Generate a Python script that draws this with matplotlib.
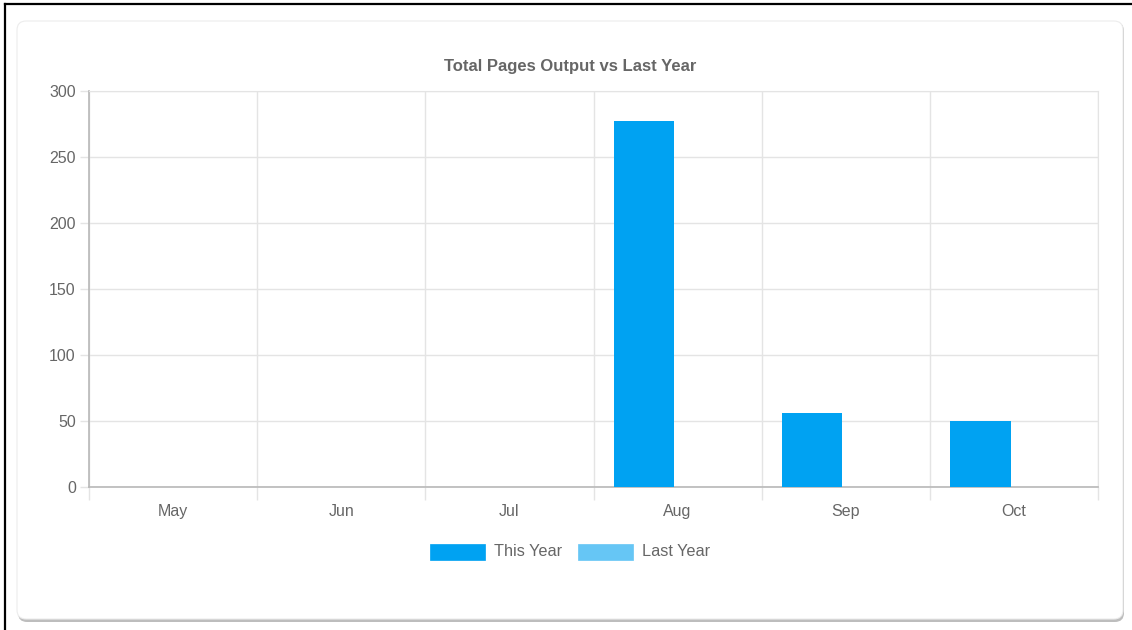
import matplotlib
matplotlib.use("Agg")
import matplotlib.pyplot as plt
from matplotlib.patches import FancyBboxPatch, Rectangle
from matplotlib.lines import Line2D

months = ["May", "Jun", "Jul", "Aug", "Sep", "Oct"]
this_year = [0, 0, 0, 277, 56, 50]
last_year = [0, 0, 0, 0, 0, 0]
series_names = ["This Year", "Last Year"]
colors = ["#00A2F2", "#66C6F5"]
yticks = [0, 50, 100, 150, 200, 250, 300]
title = "Total Pages Output vs Last Year"

W, H = 1132, 630
plt.rcParams['font.family'] = ['Liberation Sans', 'DejaVu Sans']
fig = plt.figure(figsize=(W / 100, H / 100), dpi=100)
fig.patch.set_facecolor("white")

def fx(px):
    return px / W

def fy(py):
    return 1 - py / H

# outer black frame (left and top)
fig.add_artist(Line2D([fx(5), fx(5)], [fy(4), 0], color="black", lw=1.6, transform=fig.transFigure))
fig.add_artist(Line2D([fx(5), 1], [fy(4), fy(4)], color="black", lw=1.6, transform=fig.transFigure))

# card shadow and card
shadow = FancyBboxPatch((fx(18), fy(622)), fx(1124 - 18), (622 - 22) / H,
                        boxstyle="round,pad=0,rounding_size=0.008",
                        transform=fig.transFigure, facecolor="#bdbdbd", edgecolor="none",
                        mutation_aspect=W / H, zorder=0)
fig.add_artist(shadow)
card = FancyBboxPatch((fx(17), fy(619)), fx(1123 - 17), (619 - 21) / H,
                      boxstyle="round,pad=0,rounding_size=0.008",
                      transform=fig.transFigure, facecolor="white", edgecolor="#ececec",
                      lw=0.8, mutation_aspect=W / H, zorder=0.5)
fig.add_artist(card)

left, right, top, bottom = 89, 1098, 91, 487
ax = fig.add_axes([fx(left), fy(bottom), (right - left) / W, (bottom - top) / H])
ax.set_facecolor("none")
ax.set_zorder(2)

x = list(range(len(months)))
bw = 0.36
ax.bar([i - 0.2 for i in x], this_year, width=bw, color=colors[0], zorder=3)
ax.bar([i + 0.2 for i in x], last_year, width=bw, color=colors[1], zorder=3)

ax.set_xlim(-0.5, len(months) - 0.5)
ax.set_ylim(0, 300)
ax.set_yticks(yticks)
ax.set_xticks(x)
ax.set_xticklabels(months)
ax.set_xticks([i - 0.5 for i in range(len(months) + 1)], minor=True)

grid_c = "#e4e4e4"
axis_c = "#b8b8b8"
text_c = "#666666"
ax.grid(True, axis="y", which="major", color=grid_c, lw=1, zorder=0)
ax.grid(True, axis="x", which="minor", color=grid_c, lw=1, zorder=0)
ax.tick_params(axis="x", which="major", length=0, pad=12, labelsize=11.5, labelcolor=text_c)
ax.tick_params(axis="x", which="minor", length=9.5, color=grid_c, width=1)
ax.tick_params(axis="y", length=6.5, color=grid_c, width=1, pad=3, labelsize=11.5, labelcolor=text_c)
for s in ["top", "right"]:
    ax.spines[s].set_color(grid_c)
for s in ["left", "bottom"]:
    ax.spines[s].set_color(axis_c)
    ax.spines[s].set_linewidth(1.2)

fig.text(fx(570.5), fy(67), title, ha="center", va="center", fontsize=12,
         fontweight="bold", color=text_c)

# legend
leg_y = 552
items = [(430, 494), (578, 642)]
for (bx, tx), name, c in zip(items, series_names, colors):
    fig.add_artist(Rectangle((fx(bx), fy(560)), fx(55), 16 / H, transform=fig.transFigure,
                             facecolor=c, edgecolor=c, lw=0.5))
    fig.text(fx(tx), fy(leg_y), name, ha="left", va="center", fontsize=11.7, color=text_c)

fig.savefig("out.png", dpi=100, facecolor="white")
